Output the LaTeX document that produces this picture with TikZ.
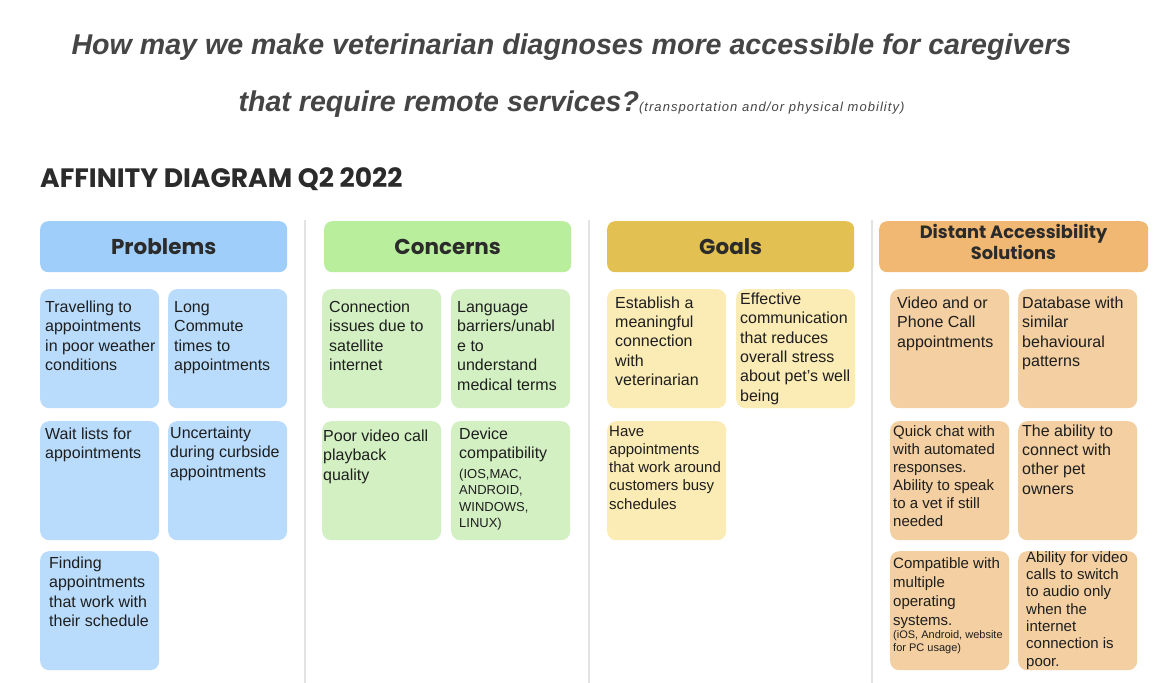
\documentclass[tikz,border=0pt]{standalone}
\usepackage{fontspec}
\setmainfont{Liberation Sans}
\newfontfamily\popfont{Poppins}
\newfontfamily\smallitfont{Liberation Sans}[LetterSpace=8]
\definecolor{hdrblue}{HTML}{9FCEFB}
\definecolor{noteblue}{HTML}{B9DCFD}
\definecolor{hdrgreen}{HTML}{B8EE9C}
\definecolor{notegreen}{HTML}{D3F0C3}
\definecolor{hdryellow}{HTML}{E2C052}
\definecolor{noteyellow}{HTML}{FBEBB5}
\definecolor{hdrorange}{HTML}{F0B872}
\definecolor{noteorange}{HTML}{F3CFA1}
\definecolor{sepgray}{HTML}{E3E3E3}
\definecolor{notetext}{HTML}{1E1E1E}
\definecolor{hdrtext}{HTML}{2B2B2B}
\definecolor{titlegray}{HTML}{454545}
\newcommand{\fl}{\rule{0pt}{12pt}}
\begin{document}
\begin{tikzpicture}[x=1pt,y=-1pt,
  hdr/.style={rounded corners=8pt, minimum width=247pt, minimum height=51pt, anchor=north west, inner sep=0pt, font=\popfont\bfseries\fontsize{21.5}{24}\selectfont, text=hdrtext, align=center},
  note/.style={rounded corners=9pt, minimum width=119pt, minimum height=119pt, anchor=north west, inner sep=0pt},
  nt/.style={anchor=north west, inner sep=0pt, align=left, text=notetext, font=\fontsize{16}{19.5}\selectfont},
  nts/.style={anchor=north west, inner sep=0pt, align=left, text=notetext, font=\fontsize{15}{18.2}\selectfont},
  sepline/.style={draw=sepgray, line width=1.2pt},
  titlef/.style={inner sep=0pt, text=titlegray, font=\bfseries\itshape\fontsize{28.6}{34}\selectfont}
]
\useasboundingbox[fill=white] (0,0) rectangle (1171,683);

% title
\node[titlef, anchor=base] (q1) at (571.5,54) {How may we make veterinarian diagnoses more accessible for caregivers};
\node[titlef, anchor=base] (q2) at (571.5,111) {that require remote services?{\smallitfont\mdseries\itshape\fontsize{13}{15}\selectfont(transportation and/or physical mobility)}};

\node[anchor=base west, inner sep=0pt, text=hdrtext, font=\popfont\bfseries\fontsize{26.6}{30}\selectfont] (affin) at (40,187) {AFFINITY DIAGRAM Q2 2022};

% separators
\coordinate (s1a) at (305,220); \coordinate (s1b) at (305,683);
\coordinate (s2a) at (589,220); \coordinate (s2b) at (589,683);
\coordinate (s3a) at (872,220); \coordinate (s3b) at (872,683);
\draw[sepline] (s1a) -- (s1b);
\draw[sepline] (s2a) -- (s2b);
\draw[sepline] (s3a) -- (s3b);

% headers
\node[hdr, fill=hdrblue] (hp) at (40,221) {Problems};
\node[hdr, fill=hdrgreen] (hc) at (324,221) {Concerns};
\node[hdr, fill=hdryellow] (hg) at (607,221) {Goals};
\node[hdr, fill=hdrorange, minimum width=269pt] (hs) at (879,221) {};
\node[inner sep=0pt, align=center, text=hdrtext, font=\popfont\bfseries\fontsize{17.8}{21}\selectfont] (hst) at (1013.5,242) {Distant Accessibility\\Solutions};

% Problems
\node[note, fill=noteblue] (p1) at (40,289) {};
\node[nt] (p1t) at (45,300) {\fl Travelling to\\appointments\\in poor weather\\conditions};
\node[note, fill=noteblue] (p2) at (168,289) {};
\node[nt] (p2t) at (174,300) {\fl Long\\Commute\\times to\\appointments};
\node[note, fill=noteblue] (p3) at (40,421) {};
\node[nt] (p3t) at (45,427) {\fl Wait lists for\\appointments};
\node[note, fill=noteblue] (p4) at (168,421) {};
\node[nt] (p4t) at (170,426) {\fl Uncertainty\\during curbside\\appointments};
\node[note, fill=noteblue] (p5) at (40,551) {};
\node[nt] (p5t) at (49,556) {\fl Finding\\appointments\\that work with\\their schedule};

% Concerns
\node[note, fill=notegreen] (c1) at (322,289) {};
\node[nt] (c1t) at (329,300) {\fl Connection\\issues due to\\satellite\\internet};
\node[note, fill=notegreen] (c2) at (451,289) {};
\node[nt] (c2t) at (457,300) {\fl Language\\barriers/unabl\\e to\\understand\\medical terms};
\node[note, fill=notegreen] (c3) at (322,421) {};
\node[nt] (c3t) at (323,429) {\fl Poor video call\\playback\\quality};
\node[note, fill=notegreen] (c4) at (451,421) {};
\node[nt] (c4t) at (459,427) {\fl Device\\compatibility};
\node[nt, font=\fontsize{13}{16.5}\selectfont] (c4s) at (459,466) {\fl (IOS,MAC,\\ANDROID,\\WINDOWS,\\LINUX)};

% Goals
\node[note, fill=noteyellow] (g1) at (607,289) {};
\node[nt, font=\fontsize{16}{19.3}\selectfont] (g1t) at (615,296) {\fl Establish a\\meaningful\\connection\\with\\veterinarian};
\node[note, fill=noteyellow] (g2) at (736,289) {};
\node[nt, font=\fontsize{16}{19.4}\selectfont] (g2t) at (740,292) {\fl Effective\\communication\\that reduces\\overall stress\\about pet's well\\being};
\node[note, fill=noteyellow] (g3) at (607,421) {};
\node[nts] (g3t) at (609,424) {\fl Have\\appointments\\that work around\\customers busy\\schedules};

% Solutions
\node[note, fill=noteorange] (o1) at (890,289) {};
\node[nt] (o1t) at (897,296) {\fl Video and or\\Phone Call\\appointments};
\node[note, fill=noteorange] (o2) at (1018,289) {};
\node[nt] (o2t) at (1022,296) {\fl Database with\\similar\\behavioural\\patterns};
\node[note, fill=noteorange] (o3) at (890,421) {};
\node[nts, font=\fontsize{15}{18}\selectfont] (o3t) at (893,424) {\fl Quick chat with\\with automated\\responses.\\Ability to speak\\to a vet if still\\needed};
\node[note, fill=noteorange] (o4) at (1018,421) {};
\node[nt, font=\fontsize{16}{19.3}\selectfont] (o4t) at (1022,424) {\fl The ability to\\connect with\\other pet\\owners};
\node[note, fill=noteorange] (o5) at (890,551) {};
\node[nts, font=\fontsize{15}{19}\selectfont] (o5t) at (893,556) {\fl Compatible with\\multiple\\operating\\systems.};
\node[nts, font=\fontsize{11}{13}\selectfont] (o5s) at (893,626) {\fl (iOS, Android, website\\for PC usage)};
\node[note, fill=noteorange] (o6) at (1018,551) {};
\node[nts, font=\fontsize{15}{17.3}\selectfont] (o6t) at (1026,550) {\fl Ability for video\\calls to switch\\to audio only\\when the\\internet\\connection is\\poor.};
\end{tikzpicture}
\end{document}
